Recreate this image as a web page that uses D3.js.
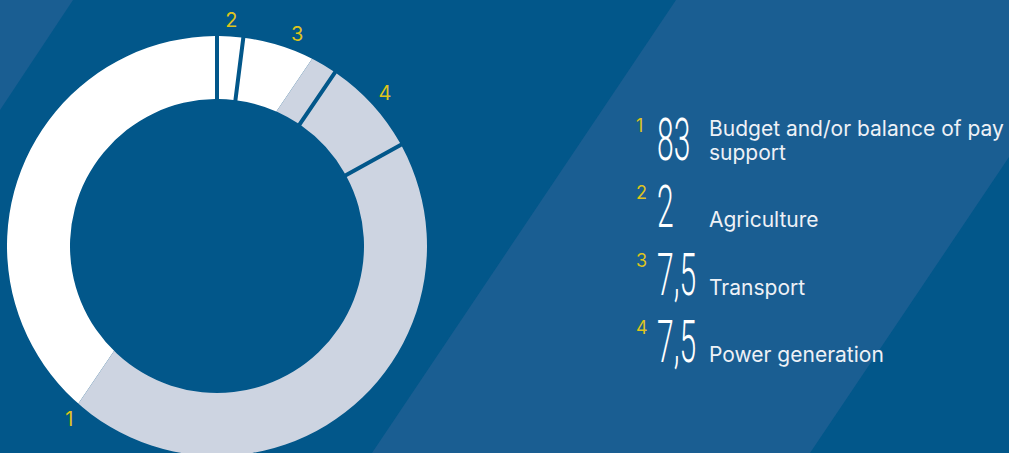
<!DOCTYPE html>
<html>
<head>
<meta charset="utf-8">
<script src="https://cdn.jsdelivr.net/npm/d3@7"></script>
<style>
  body { margin: 0; background: #02578a; overflow: hidden; }
  svg { display: block; }
</style>
</head>
<body>
<div id="chart"></div>
<script>
// chart data
var ids = ["1", "2", "3", "4"];
var values = [83, 2, 7.5, 7.5];
var valueLabels = ["83", "2", "7,5", "7,5"];
var names = [["Budget and/or balance of pay", "support"], ["Agriculture"], ["Transport"], ["Power generation"]];
// label 1 is pushed a bit round the ring (degrees)
var labelShift = [10, 0, 0, 0];

var width = 1009, height = 453;
var cx = 217, cy = 246;
var outer = 210, inner = 147;

var dark = "#02578a", band = "#1a5e92", grey = "#cdd4e1", yellow = "#dec41c";

var svg = d3.select("#chart").append("svg")
    .attr("width", width)
    .attr("height", height);

// background stripes
svg.append("rect").attr("width", width).attr("height", height).attr("fill", dark);
svg.append("polygon").attr("points", "0,0 73,0 0,110").attr("fill", band);
svg.append("polygon").attr("points", "676,0 1009,0 1009,157 810,453 372,453").attr("fill", band);

// diagonal split: white left of the line, grey right of it
function splitX(y) { return 352 - 0.678 * y; }
var defs = svg.append("defs");
defs.append("clipPath").attr("id", "leftSide").append("polygon")
    .attr("points", [[-20, -20], [splitX(-20), -20], [splitX(height + 20), height + 20], [-20, height + 20]].join(" "));
defs.append("clipPath").attr("id", "rightSide").append("polygon")
    .attr("points", [[splitX(-20), -20], [width, -20], [width, height + 20], [splitX(height + 20), height + 20]].join(" "));

var data = ids.map(function(d, i) {
    return { id: d, value: values[i], shift: labelShift[i] };
});

// the first slice ends at twelve o'clock, the others follow clockwise
var total = d3.sum(values);
var start = -2 * Math.PI * values[0] / total;
var pie = d3.pie()
    .sort(null)
    .startAngle(start)
    .endAngle(start + 2 * Math.PI)
    .value(function(d) { return d.value; });
var arcs = pie(data);

var arc = d3.arc()
    .innerRadius(inner)
    .outerRadius(outer)
    .padRadius(outer)
    .padAngle(4 / outer);

[["leftSide", "#ffffff"], ["rightSide", grey]].forEach(function(side) {
    svg.append("g")
        .attr("clip-path", "url(#" + side[0] + ")")
        .append("g")
        .attr("transform", "translate(" + cx + "," + cy + ")")
        .selectAll("path")
        .data(arcs)
        .enter().append("path")
            .attr("d", arc)
            .attr("fill", side[1]);
});

// numbers round the ring
var labelArc = d3.arc().innerRadius(227).outerRadius(227);
svg.append("g")
    .attr("transform", "translate(" + cx + "," + cy + ")")
    .selectAll("text")
    .data(arcs)
    .enter().append("text")
        .attr("transform", function(d) {
            var a = (d.startAngle + d.endAngle) / 2 + d.data.shift * Math.PI / 180;
            var p = labelArc.centroid({ startAngle: a, endAngle: a });
            return "translate(" + p[0] + "," + p[1] + ")";
        })
        .attr("dy", "0.36em")
        .attr("text-anchor", "middle")
        .style("font-family", "Inter, 'Liberation Sans', sans-serif")
        .style("font-size", "20px")
        .attr("fill", yellow)
        .text(function(d) { return d.data.id; });

// legend
var rowY = d3.scaleLinear().domain([0, 3]).range([160, 362]);

var rows = svg.append("g").selectAll("g")
    .data(data)
    .enter().append("g")
        .attr("transform", function(d, i) { return "translate(0," + rowY(i) + ")"; });

rows.append("text")
    .attr("transform", "translate(657,0) scale(0.5,1)")
    .style("font-family", "Roboto, sans-serif")
    .style("font-weight", 300)
    .style("font-size", "60px")
    .attr("fill", "#ffffff")
    .text(function(d, i) { return valueLabels[i]; });

rows.append("text")
    .attr("x", 636)
    .attr("y", -28)
    .style("font-family", "Inter, 'Liberation Sans', sans-serif")
    .style("font-size", "18px")
    .attr("fill", yellow)
    .text(function(d) { return d.id; });

rows.each(function(d, i) {
    var lines = names[i];
    d3.select(this).selectAll("text.name")
        .data(lines)
        .enter().append("text")
            .attr("class", "name")
            .attr("x", 709)
            .attr("y", function(l, j) { return (j - lines.length + 1) * 24; })
            .style("font-family", "Inter, 'Liberation Sans', sans-serif")
            .style("font-size", "21px")
            .attr("fill", "#eef1f6")
            .text(function(l) { return l; });
});
</script>
</body>
</html>
